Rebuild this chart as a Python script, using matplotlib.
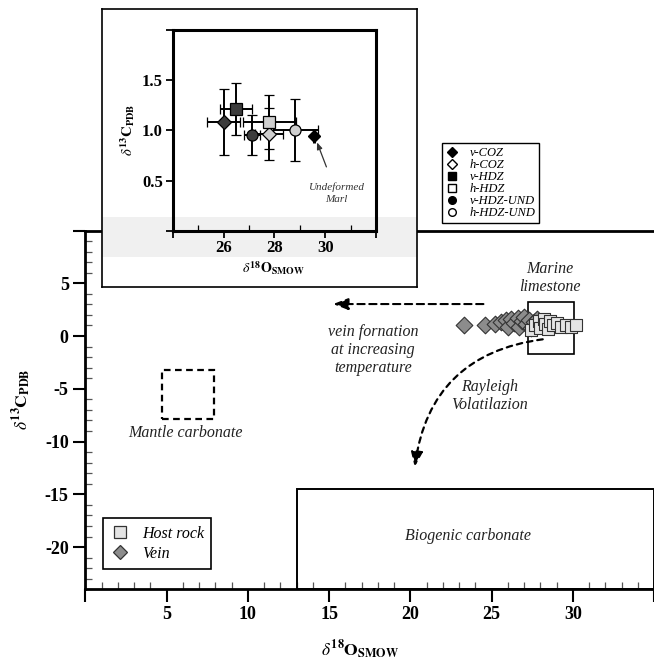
import numpy as np
import matplotlib
matplotlib.use('Agg')
import matplotlib.pyplot as plt
from matplotlib.patches import Rectangle
from matplotlib.lines import Line2D
from matplotlib.ticker import MultipleLocator

plt.rcParams['font.family'] = ['Liberation Serif', 'DejaVu Serif']
plt.rcParams['mathtext.fontset'] = 'stix'

# main plot: host rock (squares) and vein (diamonds)
host_x = [27.4, 27.7, 27.9, 28.0, 28.2, 28.3, 28.5, 28.6, 28.8, 29.0, 29.3, 29.6, 29.9, 30.2]
host_y = [0.6, 1.0, 1.4, 0.8, 1.6, 1.1, 0.7, 1.4, 1.0, 1.2, 0.9, 1.0, 0.9, 1.0]
vein_x = [23.3, 24.6, 25.2, 25.6, 25.9, 26.0, 26.2, 26.4, 26.6, 26.7, 26.9, 27.0, 27.1, 27.3, 27.4, 27.6, 27.8, 28.0]
vein_y = [1.0, 1.0, 1.1, 1.3, 1.5, 0.9, 1.6, 1.2, 1.7, 0.9, 1.4, 1.8, 1.1, 1.5, 0.8, 1.3, 1.6, 1.1]

# inset: mean values with error bars
ins_names = ['v-COZ', 'h-COZ', 'v-HDZ', 'h-HDZ', 'v-HDZ-UND', 'h-HDZ-UND']
ins_x = [26.0, 27.8, 26.5, 27.8, 27.12, 28.83]
ins_y = [1.08, 0.96, 1.21, 1.08, 0.95, 1.0]
ins_xerr = [0.65, 0.55, 0.63, 1.05, 0.32, 0.9]
ins_yerr = [0.33, 0.26, 0.26, 0.27, 0.2, 0.31]
ins_marker = ['D', 'D', 's', 's', 'o', 'o']
ins_dark = [True, False, True, False, True, False]
marl_x, marl_y = 29.55, 0.94

DARK = '#3c3c3c'
LIGHT = '#cfcfcf'

fig = plt.figure(figsize=(6.54, 6.61), dpi=100)
W, H = 654.0, 661.0

# ---------------- main axes ----------------
ax = fig.add_axes([85.4 / W, (H - 589.3) / H, (W - 85.4) / W, (589.3 - 230.5) / H])
ax.set_zorder(1)
ax.set_xlim(0, 35)
ax.set_ylim(-24, 10)
for s in ['left', 'bottom', 'top']:
    ax.spines[s].set_linewidth(2)
ax.spines['right'].set_visible(False)

ax.set_xticks(range(0, 36, 5))
ax.set_xticklabels(['', '5', '10', '15', '20', '25', '30', ''])
ax.set_yticks(range(-20, 11, 5))
ax.set_yticklabels(['-20', '-15', '-10', '-5', '0', '5', ''])
ax.xaxis.set_minor_locator(MultipleLocator(1))
ax.yaxis.set_minor_locator(MultipleLocator(1))
ax.tick_params(which='major', direction='out', length=9, width=1.5, labelsize=13, pad=3)
ax.tick_params(which='minor', direction='in', length=5, width=0.9, color='#555555')
ax.tick_params(top=False, right=False, which='both')
for lab in ax.get_xticklabels() + ax.get_yticklabels():
    lab.set_fontweight('bold')

# reference boxes
ax.add_patch(Rectangle((13, -24), 22, 9.5, fill=False, lw=1.4, ec='black', zorder=2))
ax.add_patch(Rectangle((27.25, -1.7), 2.85, 4.9, fill=False, lw=1.2, ec='black', zorder=2))
ax.add_patch(Rectangle((4.7, -7.9), 3.2, 4.7, fill=False, lw=1.6, ls=(0, (3, 2)), ec='black', zorder=2))

ax.scatter(vein_x, vein_y, marker='D', s=72, c='#8c8c8c', edgecolors='#333333', linewidths=0.8, zorder=3)
ax.scatter(host_x, host_y, marker='s', s=65, c='#e4e4e4', edgecolors='#333333', linewidths=0.8, zorder=4)

# arrows
ax.annotate('', xy=(15.25, 3.03), xytext=(24.5, 3.03),
            arrowprops=dict(arrowstyle='-|>,head_length=0.9,head_width=0.35', lw=1.5,
                            ls=(0, (3.5, 2.2)), color='black', shrinkA=0, shrinkB=0))
ax.annotate('', xy=(20.27, -12.4), xytext=(28.15, -0.31),
            arrowprops=dict(arrowstyle='-|>,head_length=0.9,head_width=0.35', lw=1.6,
                            ls=(0, (2.5, 2.2)), color='black', shrinkA=0, shrinkB=0,
                            connectionstyle='arc3,rad=0.38'))

tkw = dict(style='italic', fontsize=11.5, ha='center', va='center', color='#222222')
ax.text(28.57, 5.5, 'Marine\nlimestone', linespacing=1.15, **tkw)
ax.text(17.7, -1.3, 'vein fornation\nat increasing\ntemperature', linespacing=1.15, **tkw)
ax.text(24.9, -5.7, 'Rayleigh\nVolatilazion', linespacing=1.15, **tkw)
ax.text(6.15, -9.2, 'Mantle carbonate', **tkw)
ax.text(23.55, -18.96, 'Biogenic carbonate', **tkw)

h1 = Line2D([], [], ls='none', marker='s', ms=8, mfc='#e4e4e4', mec='#333333', mew=0.9)
h2 = Line2D([], [], ls='none', marker='D', ms=7.5, mfc='#8c8c8c', mec='#333333', mew=0.9)
leg = ax.legend([h1, h2], ['Host rock', 'Vein'], loc='lower left', bbox_to_anchor=(0.031, 0.057),
                borderaxespad=0, fancybox=False, edgecolor='black', framealpha=1,
                prop=dict(style='italic', size=11.5), handletextpad=0.8, labelspacing=0.25,
                borderpad=0.45, handlelength=1.2)
leg.get_frame().set_linewidth(1.2)

fig.text(360 / W, 1 - 650 / H, r'$\delta^{\mathbf{18}}\mathbf{O}_{\mathbf{SMOW}}$', fontsize=12.5,
         ha='center', va='center')
fig.text(22 / W, 1 - 399 / H, r'$\delta^{\mathbf{13}}\mathbf{C}_{\mathbf{PDB}}$', fontsize=12.5,
         ha='center', va='center', rotation=90)

# ---------------- inset frame ----------------
box = fig.add_axes([101.7 / W, (H - 286.7) / H, (416.7 - 101.7) / W, 277.4 / H])
box.set_zorder(2)
box.set_xlim(0, 1)
box.set_ylim(0, 1)
box.set_xticks([])
box.set_yticks([])
for s in box.spines.values():
    s.set_linewidth(1.2)
box.axhspan(0.108, 0.252, color='#f0f0f0', lw=0)

ins = fig.add_axes([172.7 / W, (H - 230.7) / H, (376 - 172.7) / W, 200.7 / H])
ins.set_zorder(3)
ins.set_facecolor('none')
ins.set_xlim(24, 32)
ins.set_ylim(0, 2)
for s in ins.spines.values():
    s.set_linewidth(2.2)
ins.set_xticks([24, 26, 28, 30, 32])
ins.set_xticklabels(['', '26', '28', '30', ''])
ins.set_yticks([0, 0.5, 1.0, 1.5, 2.0])
ins.set_yticklabels(['', '0.5', '1.0', '1.5', ''])
ins.xaxis.set_minor_locator(MultipleLocator(1))
ins.tick_params(which='major', direction='out', length=5, width=1.3, labelsize=12, pad=2)
ins.tick_params(axis='x', which='minor', direction='in', length=4, width=0.9)
ins.tick_params(axis='y', which='minor', left=False)
for lab in ins.get_xticklabels() + ins.get_yticklabels():
    lab.set_fontweight('bold')

for x, y, xe, ye, m, d in zip(ins_x, ins_y, ins_xerr, ins_yerr, ins_marker, ins_dark):
    ins.errorbar(x, y, xerr=xe, yerr=ye, fmt=m, ms=8 if m != 'D' else 7,
                 mfc=DARK if d else LIGHT, mec='black', mew=0.9,
                 ecolor='black', elinewidth=1.4, capsize=3.5, capthick=1.4)
ins.errorbar(marl_x, marl_y, xerr=0.18, yerr=0.07, fmt='D', ms=6, mfc='black', mec='black',
             ecolor='black', elinewidth=2.2, capsize=0)
ins.annotate('Undeformed\nMarl', xy=(29.68, 0.88), xytext=(30.45, 0.37),
             fontsize=8, style='italic', color='#333333', ha='center', va='center',
             linespacing=1.45,
             arrowprops=dict(arrowstyle='-|>,head_length=0.5,head_width=0.2', lw=0.9,
                             color='#333333', shrinkA=10, shrinkB=0))

fig.text(273.3 / W, 1 - 268 / H, r'$\delta^{\mathbf{18}}\mathbf{O}_{\mathbf{SMOW}}$', fontsize=10,
         ha='center', va='center', zorder=10)
fig.text(128 / W, 1 - 130 / H, r'$\delta^{\mathbf{13}}\mathbf{C}_{\mathbf{PDB}}$', fontsize=10.5,
         ha='center', va='center', rotation=90, zorder=10)

# series legend (top right)
handles = []
for m, d in zip(ins_marker, ins_dark):
    handles.append(Line2D([], [], ls='none', marker=m, ms=5.5 if m != 'D' else 5,
                          mfc='black' if d else 'white', mec='black', mew=1.0))
fl = fig.legend(handles, ins_names, loc='upper left', bbox_to_anchor=(442 / W, 1 - 143.3 / H),
                borderaxespad=0, fancybox=False, edgecolor='black', framealpha=1,
                prop=dict(style='italic', size=9), handletextpad=0.9, labelspacing=0.0,
                borderpad=0.3, handlelength=1.0)
fl.get_frame().set_linewidth(1.0)
fl.set_zorder(10)

fig.savefig('out.png', dpi=100)
